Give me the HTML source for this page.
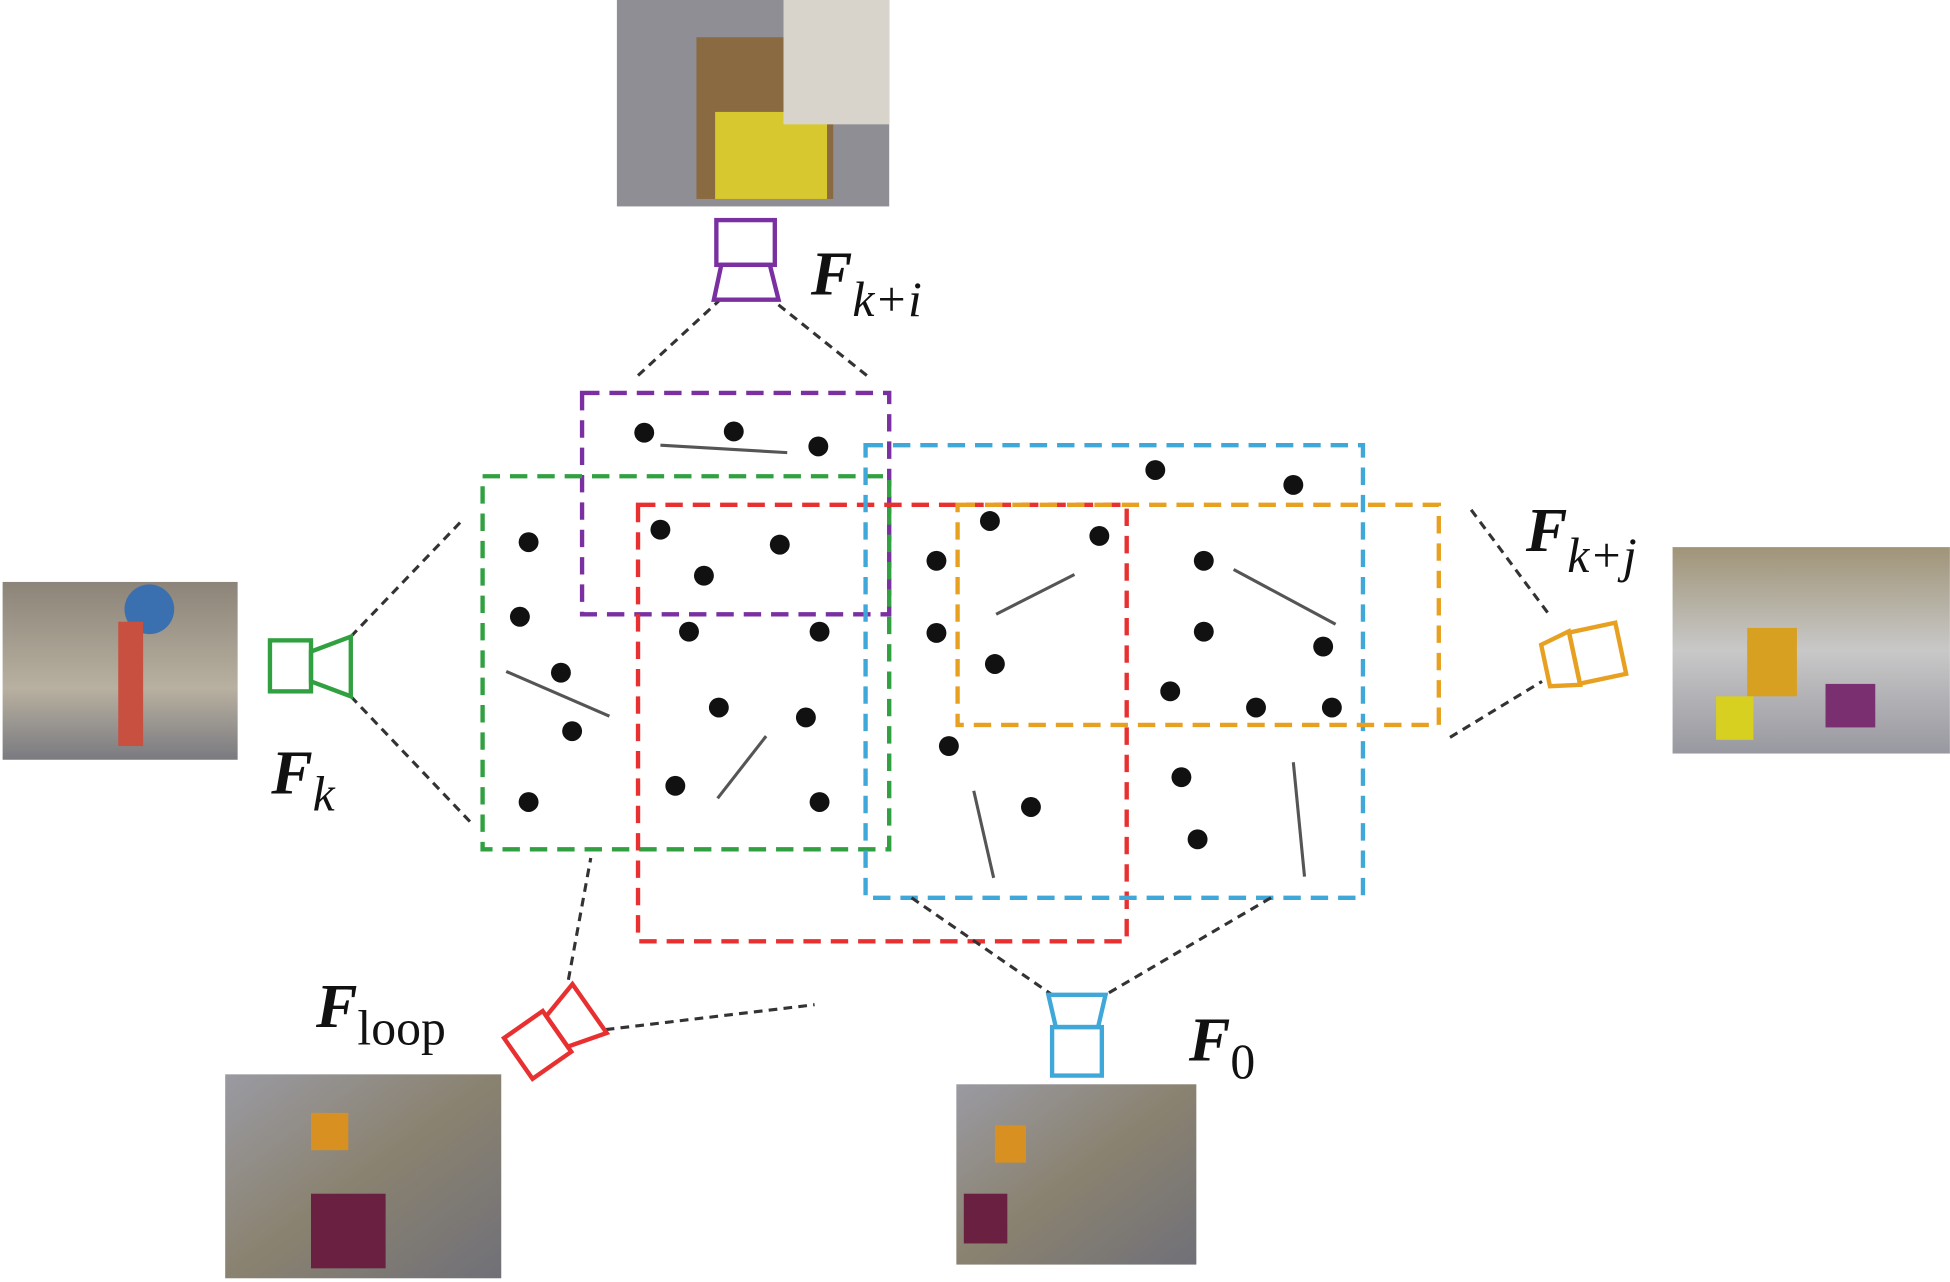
<!DOCTYPE html>
<html><head><meta charset="utf-8"><style>
html,body{margin:0;padding:0;background:#fff;}
svg{display:block;}
</style></head><body>
<svg width="1950" height="1282" viewBox="0 0 1568 1031" xmlns="http://www.w3.org/2000/svg">
<defs>
<linearGradient id="g1" x1="0" y1="0" x2="1" y2="1"><stop offset="0" stop-color="#9a9aa2"/><stop offset="0.5" stop-color="#8a8270"/><stop offset="1" stop-color="#707078"/></linearGradient>
<linearGradient id="g2" x1="0" y1="0" x2="0" y2="1"><stop offset="0" stop-color="#8c8478"/><stop offset="0.6" stop-color="#b8b0a0"/><stop offset="1" stop-color="#7a7a80"/></linearGradient>
<linearGradient id="g3" x1="0" y1="0" x2="0" y2="1"><stop offset="0" stop-color="#a09478"/><stop offset="0.5" stop-color="#c8c8c8"/><stop offset="1" stop-color="#9898a0"/></linearGradient>
</defs>
<rect x="496" y="0" width="219" height="166" fill="#8e8e94"/>
<rect x="560" y="30" width="110" height="130" fill="#8a6a40"/>
<rect x="575" y="90" width="90" height="70" fill="#d8c830"/>
<rect x="630" y="0" width="85" height="100" fill="#d8d4cc"/>
<rect x="2" y="468" width="189" height="143" fill="url(#g2)"/>
<circle cx="120" cy="490" r="20" fill="#3a70b0"/>
<rect x="95" y="500" width="20" height="100" fill="#c85040"/>
<rect x="1345" y="440" width="223" height="166" fill="url(#g3)"/>
<rect x="1405" y="505" width="40" height="55" fill="#d8a020"/>
<rect x="1380" y="560" width="30" height="35" fill="#d8d020"/>
<rect x="1468" y="550" width="40" height="35" fill="#7a3070"/>
<rect x="181" y="864" width="222" height="164" fill="url(#g1)"/>
<rect x="250" y="960" width="60" height="60" fill="#6a2040"/>
<rect x="250" y="895" width="30" height="30" fill="#d89020"/>
<rect x="769" y="872" width="193" height="145" fill="url(#g1)"/>
<rect x="800" y="905" width="25" height="30" fill="#d89020"/>
<rect x="775" y="960" width="35" height="40" fill="#6a2040"/>
<g fill="none" stroke-width="3.5" stroke-dasharray="14,8">
<rect x="468" y="316" width="247" height="178" stroke="#7a30a0"/>
<rect x="388" y="383" width="327" height="300" stroke="#30a040"/>
<rect x="513" y="406" width="393" height="351" stroke="#e83030"/>
<rect x="696" y="358" width="400" height="364" stroke="#40a8d8"/>
<rect x="770" y="406" width="387" height="177" stroke="#e8a020"/>
</g>
<g stroke="#333" stroke-width="2.5" stroke-dasharray="7,5">
<line x1="513" y1="302" x2="578" y2="242"/><line x1="697" y1="302" x2="622" y2="242"/>
<line x1="282" y1="512" x2="373" y2="417"/><line x1="282" y1="560" x2="380" y2="663"/>
<line x1="1183" y1="410" x2="1247" y2="496"/><line x1="1166" y1="593" x2="1240" y2="548"/>
<line x1="457" y1="788" x2="475" y2="690"/><line x1="487" y1="828" x2="655" y2="808"/>
<line x1="733" y1="722" x2="846" y2="800"/><line x1="1022" y1="722" x2="889" y2="800"/>
</g>
<g stroke="#555" stroke-width="2.5">
<line x1="531" y1="358" x2="633" y2="364"/><line x1="407" y1="540" x2="490" y2="576"/>
<line x1="577" y1="642" x2="616" y2="592"/><line x1="801" y1="494" x2="864" y2="462"/>
<line x1="992" y1="458" x2="1074" y2="502"/><line x1="783" y1="636" x2="799" y2="706"/>
<line x1="1040" y1="613" x2="1049" y2="705"/>
</g>
<g fill="#111">
<circle cx="518" cy="348" r="8"/><circle cx="590" cy="347" r="8"/><circle cx="658" cy="359" r="8"/>
<circle cx="929" cy="378" r="8"/><circle cx="1040" cy="390" r="8"/><circle cx="425" cy="436" r="8"/>
<circle cx="531" cy="426" r="8"/><circle cx="627" cy="438" r="8"/><circle cx="566" cy="463" r="8"/>
<circle cx="753" cy="451" r="8"/><circle cx="796" cy="419" r="8"/><circle cx="884" cy="431" r="8"/>
<circle cx="968" cy="451" r="8"/><circle cx="418" cy="496" r="8"/><circle cx="554" cy="508" r="8"/>
<circle cx="659" cy="508" r="8"/><circle cx="753" cy="509" r="8"/><circle cx="968" cy="508" r="8"/>
<circle cx="1064" cy="520" r="8"/><circle cx="800" cy="534" r="8"/><circle cx="451" cy="541" r="8"/>
<circle cx="578" cy="569" r="8"/><circle cx="648" cy="577" r="8"/><circle cx="460" cy="588" r="8"/>
<circle cx="941" cy="556" r="8"/><circle cx="1010" cy="569" r="8"/><circle cx="1071" cy="569" r="8"/>
<circle cx="763" cy="600" r="8"/><circle cx="543" cy="632" r="8"/><circle cx="659" cy="645" r="8"/>
<circle cx="425" cy="645" r="8"/><circle cx="829" cy="649" r="8"/><circle cx="950" cy="625" r="8"/>
<circle cx="963" cy="675" r="8"/>
</g>
<g fill="none" stroke-width="3.5">
<g stroke="#7a30a0"><rect x="576" y="177" width="47" height="36"/><polygon points="580,213 619,213 626,241 574,241"/></g>
<g stroke="#30a040"><rect x="217" y="515" width="33" height="41"/><polygon points="250,524 282,512 282,560 250,548"/></g>
<g stroke="#40a8d8"><polygon points="843,800 889,800 883,826 849,826"/><rect x="846" y="826" width="40" height="39"/></g>
<g stroke="#e8a020" transform="rotate(-12 1272 528)"><polygon points="1242,512 1266,506 1266,550 1242,546"/><rect x="1266" y="507" width="38" height="42"/></g>
<g stroke="#e83030" transform="rotate(-35 447 830)"><rect x="410" y="810" width="38" height="40"/><polygon points="448,815 480,806 480,854 448,845"/></g>
</g>
<g font-family="Liberation Serif, serif" fill="#111">
<text x="652" y="237" font-size="50" font-weight="bold" font-style="italic">F<tspan font-size="40" font-weight="normal" dy="17">k+i</tspan></text>
<text x="218" y="638" font-size="50" font-weight="bold" font-style="italic">F<tspan font-size="40" font-weight="normal" dy="14">k</tspan></text>
<text x="254" y="826" font-size="50" font-weight="bold" font-style="italic">F<tspan font-size="40" font-weight="normal" font-style="normal" dy="14">loop</tspan></text>
<text x="956" y="853" font-size="50" font-weight="bold" font-style="italic">F<tspan font-size="40" font-weight="normal" font-style="normal" dy="14">0</tspan></text>
<text x="1227" y="443" font-size="50" font-weight="bold" font-style="italic">F<tspan font-size="40" font-weight="normal" dy="17">k+j</tspan></text>
</g>
</svg>
</body></html>
